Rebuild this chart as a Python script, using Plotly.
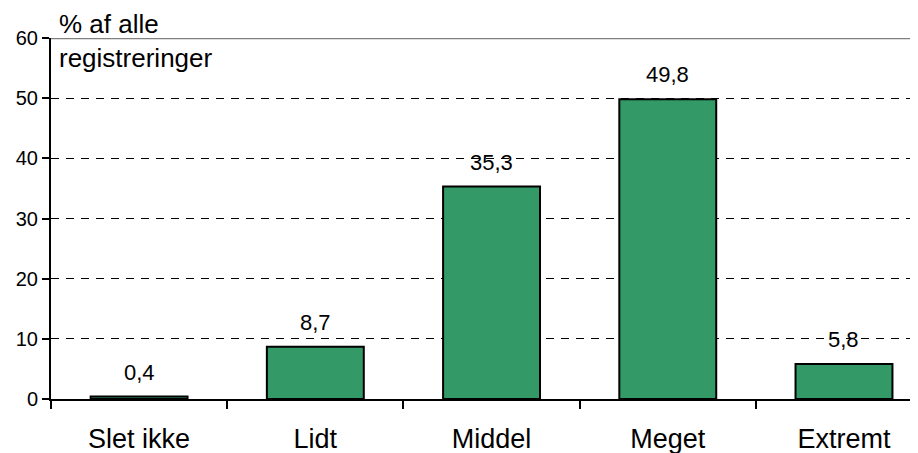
import plotly.graph_objects as go

categories = ["Slet ikke", "Lidt", "Middel", "Meget", "Extremt"]
values = [0.4, 8.7, 35.3, 49.8, 5.8]
value_labels = ["0,4", "8,7", "35,3", "49,8", "5,8"]
y_ticks = [0, 10, 20, 30, 40, 50, 60]

FONT = "Liberation Sans, Arial, sans-serif"

fig = go.Figure()
fig.add_trace(go.Bar(
    x=categories, y=values,
    marker=dict(color="#339966", line=dict(color="black", width=2)),
    width=0.55,
    hoverinfo="skip",
))

for c, v, t in zip(categories, values, value_labels):
    fig.add_annotation(x=c, y=v, text=t, showarrow=False, yanchor="bottom",
                       yshift=10, font=dict(family=FONT, size=22, color="black"))

fig.add_annotation(xref="paper", yref="paper", x=0, y=1, xanchor="left", yanchor="middle",
                   xshift=6, yshift=-3, text="% af alle<br>registreringer", showarrow=False, align="left",
                   font=dict(family=FONT, size=26, color="black"))

fig.add_shape(type="line", xref="paper", yref="y", x0=0, x1=1, y0=60, y1=60,
              line=dict(color="#808080", width=2.5), layer="above")

# page body has an 8px margin; compensate so the plot sits where the reference has it
fig.update_layout(
    width=910, height=445,
    margin=dict(l=43, r=0, t=30, b=54),
    plot_bgcolor="white", paper_bgcolor="white",
    showlegend=False,
    font=dict(family=FONT, color="black"),
    xaxis=dict(range=[-0.5, 4.42], showline=True, linecolor="black", linewidth=2,
               ticks="outside", tickson="boundaries", ticklen=8, tickwidth=2, tickcolor="black",
               tickfont=dict(size=27), ticklabelstandoff=15, showgrid=False, fixedrange=True),
    yaxis=dict(range=[0, 60], tickvals=y_ticks, showline=True, linecolor="black", linewidth=2,
               ticks="outside", ticklen=7, tickwidth=2, tickcolor="black",
               tickfont=dict(size=20), showgrid=True, gridcolor="black", griddash="8px,7px",
               gridwidth=1, zeroline=False, fixedrange=True),
)

fig.write_html("out.html")
